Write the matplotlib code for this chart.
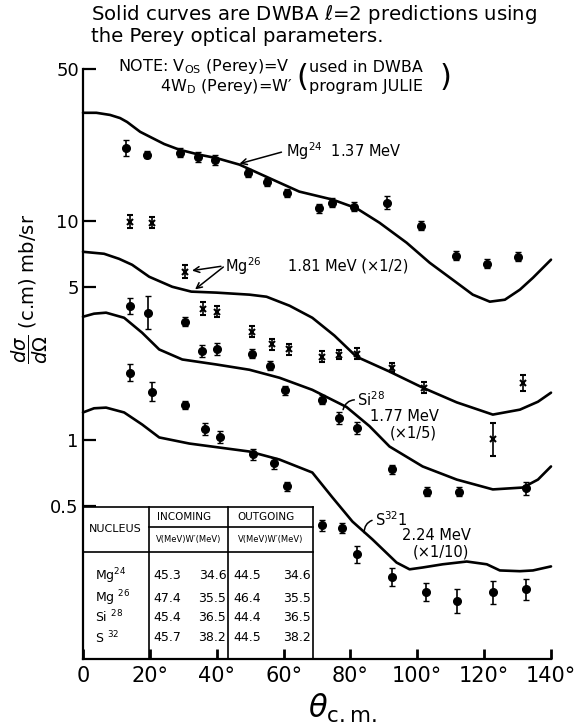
import numpy as np
import matplotlib.pyplot as plt
from matplotlib.ticker import FixedLocator, FixedFormatter, NullLocator

plt.rcParams['font.family'] = ['DejaVu Sans']
plt.rcParams['mathtext.fontset'] = 'dejavusans'

# measured cross sections: angle (deg, c.m.), dsigma/dOmega (mb/sr), relative error
mg24_theta = [13, 19, 29, 34.5, 39.5, 49.5, 55, 61, 70.5, 74.5, 81, 91, 101, 111.5, 121, 130]
mg24_sigma = [21.7, 20.2, 20.6, 19.7, 19.1, 16.7, 15.2, 13.5, 11.5, 12.2, 11.7, 12.2, 9.56, 6.97, 6.41, 6.90]
mg24_err = [0.09, 0.04, 0.05, 0.05, 0.05, 0.045, 0.045, 0.045, 0.05, 0.05, 0.045, 0.075, 0.05, 0.05, 0.05, 0.05]

# Mg26 plotted x1/2
mg26_theta = [14, 20.5, 30.5, 36, 40, 50.5, 56.5, 61.5, 71.5, 76.5, 82, 92.5, 102, 122.5, 131.5]
mg26_sigma = [9.97, 9.87, 5.89, 4.00, 3.87, 3.14, 2.74, 2.60, 2.41, 2.46, 2.49, 2.15, 1.74, 1.01, 1.83]
mg26_err = [0.07, 0.06, 0.07, 0.07, 0.06, 0.06, 0.06, 0.06, 0.06, 0.05, 0.06, 0.05, 0.06, 0.19, 0.09]

# Si28 plotted x1/5
si28_theta = [14, 19.5, 30.5, 35.5, 40, 50.5, 56, 60.5, 71.5, 76.5, 82, 92.5, 103, 112.5, 132.5]
si28_sigma = [4.12, 3.83, 3.48, 2.57, 2.60, 2.49, 2.19, 1.69, 1.53, 1.27, 1.14, 0.735, 0.583, 0.583, 0.602]
si28_err = [0.09, 0.19, 0.05, 0.065, 0.065, 0.05, 0.05, 0.05, 0.05, 0.065, 0.065, 0.05, 0.05, 0.05, 0.075]

# S32 plotted x1/10
s32_theta = [14, 20.5, 30.5, 36.5, 41, 51, 57, 61, 71.5, 77.5, 82, 92.5, 102.5, 112, 122.5, 132.5]
s32_sigma = [2.04, 1.67, 1.45, 1.13, 1.04, 0.861, 0.783, 0.615, 0.408, 0.396, 0.301, 0.236, 0.202, 0.184, 0.202, 0.208]
s32_err = [0.09, 0.11, 0.045, 0.065, 0.065, 0.055, 0.055, 0.045, 0.055, 0.055, 0.09, 0.10, 0.10, 0.13, 0.13, 0.12]

# DWBA l=2 curves
mg24_dwba_theta = [0, 4, 8.1, 11.1, 13.2, 17.1, 20, 24.3, 28.8, 34.8, 39.9, 46.8, 54.9, 64.7, 74.6, 81.8,
                   88.7, 96.8, 103.7, 111.8, 116.6, 121.7, 126.2, 130.7, 134.6, 140]
mg24_dwba_sigma = [31.4, 31.4, 30.7, 29.7, 28.5, 25.7, 24.4, 22.6, 21.3, 20.2, 19.5, 18.2, 16.0, 13.7, 12.6, 11.5,
                   9.87, 8.0, 6.48, 5.25, 4.63, 4.30, 4.39, 4.88, 5.53, 6.69]

mg26_dwba_theta = [0, 6.3, 10.8, 14.7, 19.8, 26.7, 32.4, 39.9, 49.8, 54.9, 61.8, 68.6, 75.2, 81.8,
                   91.7, 101.6, 111.8, 122.6, 130.7, 136.1, 140]
mg26_dwba_sigma = [7.27, 7.12, 6.75, 6.34, 5.59, 5.03, 4.78, 4.73, 4.63, 4.53, 4.12, 3.63, 3.01, 2.41,
                   2.06, 1.74, 1.49, 1.31, 1.38, 1.50, 1.65]

si28_dwba_theta = [0, 3.3, 6.9, 12.3, 17.7, 22.8, 29.7, 39.9, 49.8, 58.8, 68.6, 78.8, 85.7, 91.7,
                   101.6, 111.8, 122.6, 131.6, 136.1, 140]
si28_dwba_sigma = [3.67, 3.79, 3.83, 3.63, 3.10, 2.60, 2.34, 2.22, 2.10, 1.93, 1.70, 1.42, 1.16, 0.936,
                   0.759, 0.661, 0.596, 0.608, 0.661, 0.759]

s32_dwba_theta = [0, 3.3, 6.9, 12.3, 17.7, 22.8, 31.8, 49.8, 58.8, 68.6, 74.6, 80.6, 86.6, 93.8,
                  97.7, 101.6, 107.6, 114.8, 120.8, 124.7, 130.7, 134.6, 140]
s32_dwba_sigma = [1.34, 1.40, 1.41, 1.34, 1.18, 1.03, 0.966, 0.888, 0.816, 0.712, 0.548, 0.425, 0.352, 0.276,
                  0.257, 0.262, 0.271, 0.279, 0.271, 0.254, 0.252, 0.254, 0.265]

# optical model parameters
nuclei = ['Mg$^{24}$', 'Mg $^{26}$', 'Si $^{28}$', 'S $^{32}$']
v_in = ['45.3', '47.4', '45.4', '45.7']
w_in = ['34.6', '35.5', '36.5', '38.2']
v_out = ['44.5', '46.4', '44.4', '44.5']
w_out = ['34.6', '35.5', '36.5', '38.2']

x_ticks = [0, 20, 40, 60, 80, 100, 120, 140]
x_labels = ['0', '20°', '40°', '60°', '80°', '100°', '120°', '140°']
y_ticks = [0.5, 1, 5, 10, 50]
y_labels = ['0.5', '1', '5', '10', '50']

W, H = 578, 726
fig = plt.figure(figsize=(W / 100, H / 100), dpi=100)
ax = fig.add_axes([83 / W, 1 - 659 / H, (551 - 83) / W, (659 - 68.6) / H])
ax.set_yscale('log')
ax.set_xlim(0, 140)
ax.set_ylim(0.1, 50)

for s in ['top', 'right']:
    ax.spines[s].set_visible(False)
for s in ['left', 'bottom']:
    ax.spines[s].set_linewidth(1.6)

ax.xaxis.set_major_locator(FixedLocator(x_ticks))
ax.xaxis.set_major_formatter(FixedFormatter(x_labels))
ax.yaxis.set_major_locator(FixedLocator(y_ticks))
ax.yaxis.set_major_formatter(FixedFormatter(y_labels))
ax.yaxis.set_minor_locator(NullLocator())
ax.xaxis.set_minor_locator(NullLocator())
ax.tick_params(axis='x', direction='in', length=7.5, width=2, labelsize=15, pad=5)
ax.tick_params(axis='y', direction='in', length=9, width=1.6, labelsize=13, pad=3)

# theory curves
for th, sg in [(mg24_dwba_theta, mg24_dwba_sigma), (mg26_dwba_theta, mg26_dwba_sigma),
               (si28_dwba_theta, si28_dwba_sigma), (s32_dwba_theta, s32_dwba_sigma)]:
    ax.plot(th, sg, color='black', lw=1.9, solid_capstyle='round', solid_joinstyle='round',
            clip_on=False)


def points(th, sg, er, marker, ms, mew):
    sg = np.array(sg)
    er = np.array(er)
    lo = sg - sg / (1 + er)
    hi = sg * er
    ax.errorbar(th, sg, yerr=[lo, hi], fmt=marker, color='black', ms=ms, mew=mew,
                elinewidth=1.2, capsize=2.5, capthick=1.2)


points(mg24_theta, mg24_sigma, mg24_err, 'o', 5.5, 1)
points(mg26_theta, mg26_sigma, mg26_err, 'x', 4, 1.5)
points(si28_theta, si28_sigma, si28_err, 'o', 5.5, 1)
points(s32_theta, s32_sigma, s32_err, 'o', 5.5, 1)

# curve labels
arrow = dict(arrowstyle='->', color='black', lw=1.1, shrinkA=1, shrinkB=1)
ax.annotate('Mg$^{24}$  1.37 MeV', xy=(46.4, 18.3), xytext=(60.6, 21.0), fontsize=10.5,
            va='center', ha='left', arrowprops=dict(arrow, relpos=(0, 0.5)))
ax.annotate('Mg$^{26}$', xy=(32.2, 5.95), xytext=(42.5, 6.28), fontsize=10.5,
            va='center', ha='left', arrowprops=dict(arrow, relpos=(0, 0.5)))
ax.annotate('', xy=(33.2, 4.85), xytext=(42.3, 6.25), arrowprops=arrow)
ax.text(61.3, 6.28, '1.81 MeV (×1/2)', fontsize=10.5, va='center', ha='left')

hook = dict(arrowstyle='-', color='black', lw=1.1, connectionstyle='arc3,rad=0.4',
            shrinkA=0, shrinkB=0)
ax.annotate('Si$^{28}$', xy=(77.8, 1.38), xytext=(82.0, 1.53), fontsize=10.5,
            va='center', ha='left', arrowprops=dict(hook, relpos=(0, 0.5)))
ax.text(85.9, 1.28, '1.77 MeV', fontsize=10.5, va='center', ha='left')
ax.text(91.8, 1.08, '(×1/5)', fontsize=10.5, va='center', ha='left')

ax.annotate('S$^{32}$1', xy=(84.1, 0.378), xytext=(87.3, 0.434), fontsize=10.5,
            va='center', ha='left', arrowprops=dict(hook, relpos=(0, 0.5)))
ax.text(95.4, 0.367, '2.24 MeV', fontsize=10.5, va='center', ha='left')
ax.text(98.7, 0.307, '(×1/10)', fontsize=10.5, va='center', ha='left')

# parameter table in the lower left corner
t = ax.transAxes
kw = dict(color='black', lw=1.2, transform=t, clip_on=False)
x_r, x_1, x_2 = 0.491, 0.141, 0.310
y_top, y_mid, y_hdr = 0.2575, 0.2236, 0.1812
ax.plot([0, x_r], [y_top, y_top], **kw)
ax.plot([x_r, x_r], [0, y_top], **kw)
ax.plot([x_1, x_1], [0, y_top], **kw)
ax.plot([x_2, x_2], [0, y_top], **kw)
ax.plot([x_1, x_r], [y_mid, y_mid], **kw)
ax.plot([0, x_r], [y_hdr, y_hdr], **kw)

ax.text(0.068, 0.2195, 'NUCLEUS', transform=t, fontsize=8, ha='center', va='center')
ax.text(0.217, 0.2405, 'INCOMING', transform=t, fontsize=7.5, ha='center', va='center')
ax.text(0.391, 0.2405, 'OUTGOING', transform=t, fontsize=7.5, ha='center', va='center')
ax.text(0.2255, 0.2016, 'V(MeV)W′(MeV)', transform=t, fontsize=6, ha='center', va='center')
ax.text(0.4005, 0.2016, 'V(MeV)W′(MeV)', transform=t, fontsize=6, ha='center', va='center')

row_y = [0.1406, 0.1033, 0.0711, 0.0356]
for i, yy in enumerate(row_y):
    ax.text(0.026, yy, nuclei[i], transform=t, fontsize=9, ha='left', va='center')
    ax.text(0.150, yy, v_in[i], transform=t, fontsize=9, ha='left', va='center')
    ax.text(0.306, yy, w_in[i], transform=t, fontsize=9, ha='right', va='center')
    ax.text(0.321, yy, v_out[i], transform=t, fontsize=9, ha='left', va='center')
    ax.text(0.487, yy, w_out[i], transform=t, fontsize=9, ha='right', va='center')

# header notes
fig.text(91 / W, 1 - 14 / H, 'Solid curves are DWBA $\\ell$=2 predictions using',
         fontsize=14.2, ha='left', va='center')
fig.text(91 / W, 1 - 37 / H, 'the Perey optical parameters.', fontsize=14.2, ha='left', va='center')
note = dict(fontsize=11.5, ha='left', va='center')
fig.text(118 / W, 1 - 67 / H, 'NOTE: V$_{\\rm OS}$ (Perey)=V', **note)
fig.text(160 / W, 1 - 87 / H, '4W$_{\\rm D}$ (Perey)=W′', **note)
fig.text(296 / W, 1 - 77 / H, '(', fontsize=22, ha='left', va='center')
fig.text(309 / W, 1 - 67 / H, 'used in DWBA', **note)
fig.text(309 / W, 1 - 87 / H, 'program JULIE', **note)
fig.text(440 / W, 1 - 77 / H, ')', fontsize=22, ha='left', va='center')

# axis titles
fig.text(342 / W, 1 - 708 / H, '$\\theta_{\\rm c.m.}$', fontsize=22, ha='center', va='center')
fig.text(30 / W, 1 - 289 / H, '$\\dfrac{d\\sigma}{d\\Omega}$ (c.m) mb/sr', fontsize=14,
         rotation=90, ha='center', va='center')

fig.savefig('out.png', dpi=100)
